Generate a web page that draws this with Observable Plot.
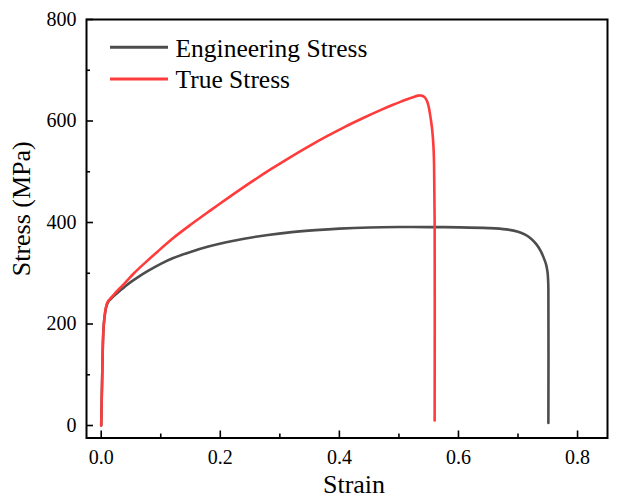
<!DOCTYPE html>
<html><head><meta charset="utf-8">
<script src="https://cdn.jsdelivr.net/npm/d3@7"></script>
<script src="https://cdn.jsdelivr.net/npm/@observablehq/plot@0.6"></script>
<style>
body{margin:0;background:#fff}
#chart{position:relative;width:617px;height:504px}
</style>
</head><body><div id="chart"></div>
<script>
// Data
const seriesNames = ["Engineering Stress", "True Stress"];
const seriesColors = ["#4d4d4d", "#ff3b3b"];

const engStrain = [0, 0.0017, 0.0044, 0.009, 0.012, 0.016, 0.022, 0.03, 0.04, 0.05, 0.06, 0.08, 0.10, 0.12, 0.15, 0.18, 0.21, 0.24, 0.28, 0.32, 0.36, 0.40, 0.45, 0.50, 0.55, 0.60, 0.65, 0.68, 0.70, 0.712, 0.722, 0.731, 0.738, 0.743, 0.747, 0.7495, 0.7505, 0.751, 0.751];
const engStress = [0, 98, 200, 236, 244, 249, 256, 264, 274, 283, 291, 305.5, 318.5, 329.5, 342, 352.5, 361, 368, 375.5, 381, 385, 388, 390.2, 391, 391, 390.5, 389, 386.5, 382, 376, 368, 357, 344, 331, 318, 303, 288, 270, 5];

const trueStrain = [0, 0.0017, 0.0044, 0.009, 0.012, 0.016, 0.022, 0.03, 0.04, 0.055, 0.075, 0.094, 0.12, 0.15, 0.1836, 0.215, 0.251, 0.285, 0.318, 0.35, 0.38, 0.41, 0.44, 0.469, 0.49, 0.505, 0.515, 0.525, 0.532, 0.538, 0.543, 0.547, 0.550, 0.552, 0.554, 0.556, 0.558, 0.559, 0.560, 0.560];
const trueStress = [0, 98, 200, 238, 246, 251, 259, 269, 281, 300, 322, 342, 368.5, 395.5, 424, 450, 479, 505, 529, 551, 570.5, 589, 606, 621.5, 632, 639, 643.5, 647.5, 650, 650, 647, 640, 628, 615, 600, 581, 550, 516, 400, 10];

const xMajor = [0, 0.2, 0.4, 0.6, 0.8];
const xMinor = [0.1, 0.3, 0.5, 0.7];
const yMajor = [0, 200, 400, 600, 800];
const yMinor = [100, 300, 500, 700];

const W = 617, H = 504, mL = 86, mR = 10, mT = 19, mB = 66.5;
const innerW = W - mL - mR, innerH = H - mT - mB;
const font = "'Liberation Serif', 'Times New Roman', serif";

const engData = engStrain.map((x, i) => ({strain: x, stress: engStress[i]}));
const trueData = trueStrain.map((x, i) => ({strain: x, stress: trueStress[i]}));

const plot = Plot.plot({
  width: W, height: H,
  marginLeft: mL, marginRight: mR, marginTop: mT, marginBottom: mB,
  style: {fontFamily: font, background: "#fff", color: "#000"},
  x: {domain: [-0.0247, 0.8503]},
  y: {domain: [-24.6, 800]},
  marks: [
    Plot.line(engData, {x: "strain", y: "stress", stroke: seriesColors[0], strokeWidth: 2.6, curve: "catmull-rom"}),
    Plot.line(trueData, {x: "strain", y: "stress", stroke: seriesColors[1], strokeWidth: 2.6, curve: "catmull-rom"}),
    Plot.tickX(xMajor, {x: d => d, insetTop: innerH - 7, stroke: "#000", strokeWidth: 1.6}),
    Plot.tickX(xMinor, {x: d => d, insetTop: innerH - 4, stroke: "#000", strokeWidth: 1.6}),
    Plot.tickY(yMajor, {y: d => d, insetRight: innerW - 7, stroke: "#000", strokeWidth: 1.6}),
    Plot.tickY(yMinor, {y: d => d, insetRight: innerW - 4, stroke: "#000", strokeWidth: 1.6}),
    Plot.axisX(xMajor, {tickSize: 0, tickPadding: 11.5, tickFormat: d3.format(".1f"), fontSize: 20, label: null}),
    Plot.axisY(yMajor, {tickSize: 0, tickPadding: 10, tickFormat: d3.format("d"), fontSize: 20, label: null}),
    Plot.frame({stroke: "#000", strokeWidth: 2}),
    Plot.text(["Strain"], {frameAnchor: "bottom", lineAnchor: "middle", textAnchor: "middle", dx: 7, dy: 47, fontSize: 26, fill: "#000"}),
    Plot.text(["Stress (MPa)"], {frameAnchor: "left", lineAnchor: "middle", textAnchor: "middle", rotate: -90, dx: -65, dy: -20, fontSize: 26, fill: "#000"})
  ]
});

// Legend inside the plot, top-left
const svg = d3.select(plot);
const lg = svg.append("g").attr("font-family", font).attr("font-size", 25.5).attr("text-anchor", "start");
seriesNames.forEach((name, i) => {
  const yLine = 47.3 + 31.7 * i;
  lg.append("line").attr("x1", 110).attr("x2", 168).attr("y1", yLine).attr("y2", yLine)
    .attr("stroke", seriesColors[i]).attr("stroke-width", 3);
  lg.append("text").attr("x", 175.5).attr("y", 56.7 + 31.7 * i).attr("fill", "#000")
    .attr("text-anchor", "start").text(name);
});

document.getElementById("chart").appendChild(plot);
</script>
</body></html>
